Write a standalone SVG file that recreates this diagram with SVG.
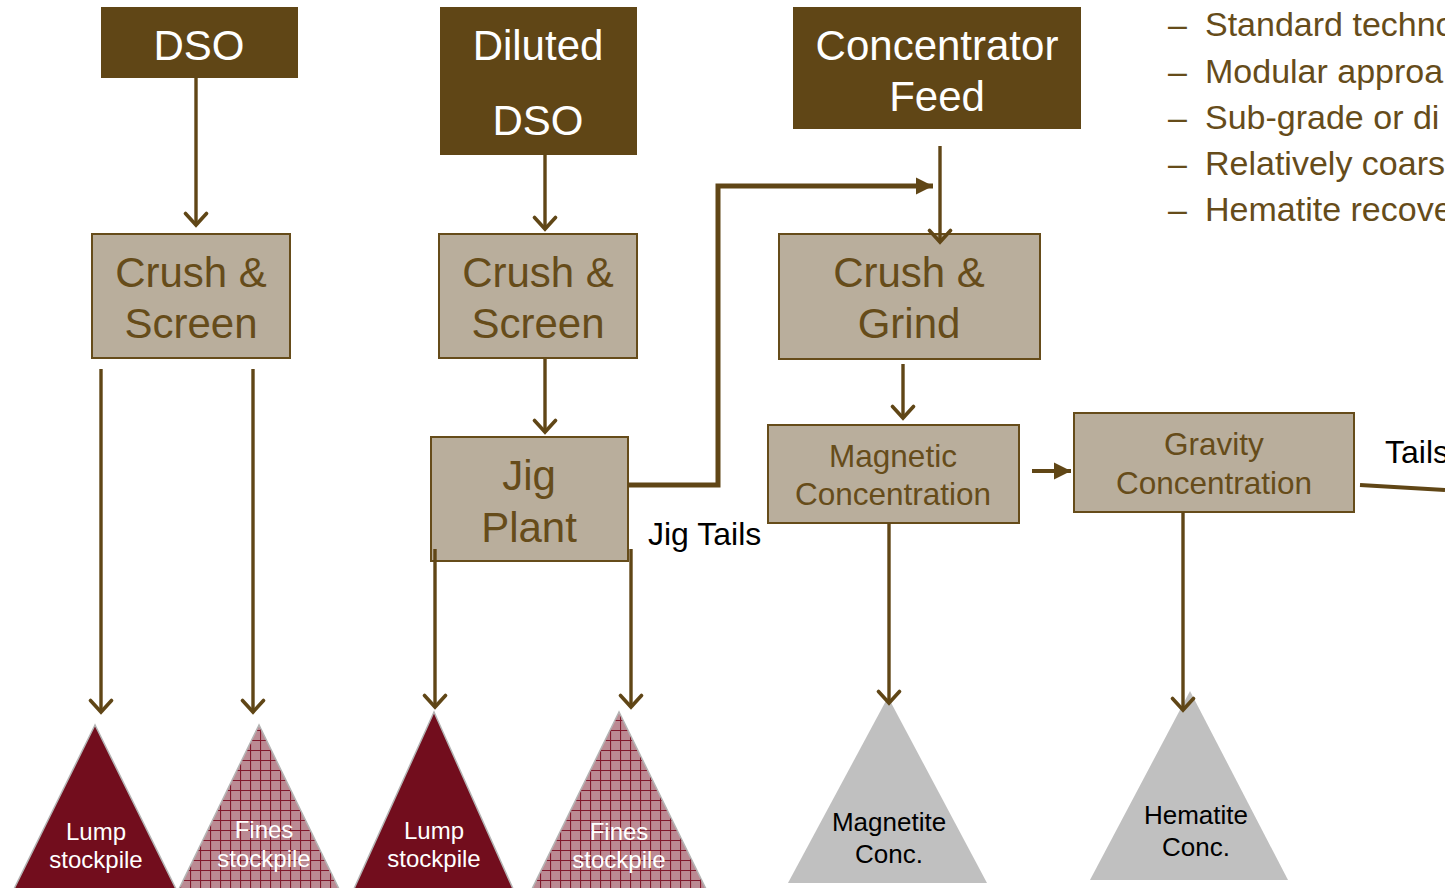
<svg xmlns="http://www.w3.org/2000/svg" width="1445" height="888" viewBox="0 0 1445 888">
<style>
.hdr{fill:#604616}
.box{fill:#b9ae9c;stroke:#664c1a;stroke-width:2}
.ht{font-family:"Liberation Sans",Arial,sans-serif;font-size:42px;fill:#ffffff;text-anchor:middle}
.bt{font-family:"Liberation Sans",Arial,sans-serif;font-size:42px;fill:#664c1a;text-anchor:middle}
.mt{font-family:"Liberation Sans",Arial,sans-serif;font-size:31.5px;fill:#664c1a;text-anchor:middle}
.lbl{font-family:"Liberation Sans",Arial,sans-serif;font-size:32px;fill:#000000}
.st{font-family:"Liberation Sans",Arial,sans-serif;font-size:24px;fill:#ffffff;text-anchor:middle}
.ct{font-family:"Liberation Sans",Arial,sans-serif;font-size:26px;fill:#000000;text-anchor:middle}
.bl{font-family:"Liberation Sans",Arial,sans-serif;font-size:34px;fill:#664c1a}
.thin{stroke:#604616;stroke-width:3.4;fill:none}
.thick{stroke:#604616;stroke-width:5;fill:none}
.lump{fill:#720d1d;stroke:#b4b4b4;stroke-width:1.5}
.fines{fill:url(#grid);stroke:#b4b4b4;stroke-width:1.5}
.conc{fill:#c0c0c0}
</style>
<defs>
<marker id="open" markerUnits="userSpaceOnUse" viewBox="-15 -13 18 26" markerWidth="18" markerHeight="26" refX="0" refY="0" orient="auto">
<path d="M-11.5,-10.5 L0,0 L-11.5,10.5" fill="none" stroke="#604616" stroke-width="3.6" stroke-linecap="round" stroke-linejoin="miter"/>
</marker>
<marker id="solid" markerUnits="userSpaceOnUse" viewBox="-18 -10 20 20" markerWidth="20" markerHeight="20" refX="0" refY="0" orient="auto">
<path d="M-17,-8.5 L0,0 L-17,8.5 Z" fill="#604616"/>
</marker>
<pattern id="grid" patternUnits="userSpaceOnUse" width="10" height="10">
<rect width="10" height="10" fill="#bb8a93"/>
<path d="M0,0.5 H10 M0.5,0 V10" stroke="#80192c" stroke-width="1.2"/>
</pattern>
</defs>

<g id="dso"><rect class="hdr" x="101" y="7" width="197" height="71"/><text class="ht" x="199" y="60">DSO</text></g>
<g id="diluted-dso"><rect class="hdr" x="440" y="7" width="197" height="148"/><text class="ht" x="538" y="60">Diluted</text><text class="ht" x="538" y="135">DSO</text></g>
<g id="concentrator-feed"><rect class="hdr" x="793" y="7" width="288" height="122"/><text class="ht" x="937" y="60">Concentrator</text><text class="ht" x="937" y="111">Feed</text></g>

<g id="crush-screen-1"><rect class="box" x="92" y="234" width="198" height="124"/><text class="bt" x="191" y="287">Crush &amp;</text><text class="bt" x="191" y="338">Screen</text></g>
<g id="crush-screen-2"><rect class="box" x="439" y="234" width="198" height="124"/><text class="bt" x="538" y="287">Crush &amp;</text><text class="bt" x="538" y="338">Screen</text></g>
<g id="jig-plant"><rect class="box" x="431" y="437" width="197" height="124"/><text class="bt" x="529" y="490">Jig</text><text class="bt" x="529" y="542">Plant</text></g>
<g id="crush-grind"><rect class="box" x="779" y="234" width="261" height="125"/><text class="bt" x="909" y="287">Crush &amp;</text><text class="bt" x="909" y="338">Grind</text></g>
<g id="magnetic"><rect class="box" x="768" y="425" width="251" height="98"/><text class="mt" x="893" y="467">Magnetic</text><text class="mt" x="893" y="505">Concentration</text></g>
<g id="gravity"><rect class="box" x="1074" y="413" width="280" height="99"/><text class="mt" x="1214" y="455">Gravity</text><text class="mt" x="1214" y="494">Concentration</text></g>

<g id="jig-tails-label"><text class="lbl" x="648" y="545">Jig Tails</text></g>
<g id="tails-label"><text class="lbl" x="1385" y="463">Tails</text></g>

<g id="lump-1"><polygon class="lump" points="95,725 13,891 177,891"/><text class="st" x="96" y="840">Lump</text><text class="st" x="96" y="868">stockpile</text></g>
<g id="fines-1"><polygon class="fines" points="259,725 178,891 340,891"/><text class="st" x="264" y="838">Fines</text><text class="st" x="264" y="867">stockpile</text></g>
<g id="lump-2"><polygon class="lump" points="434,712 353,891 514,891"/><text class="st" x="434" y="839">Lump</text><text class="st" x="434" y="867">stockpile</text></g>
<g id="fines-2"><polygon class="fines" points="619,712 531,891 707,891"/><text class="st" x="619" y="840">Fines</text><text class="st" x="619" y="868">stockpile</text></g>
<g id="magnetite"><polygon class="conc" points="888,697 788,883 987,883"/><text class="ct" x="889" y="831">Magnetite</text><text class="ct" x="889" y="863">Conc.</text></g>
<g id="hematite"><polygon class="conc" points="1190,691 1090,880 1288,880"/><text class="ct" x="1196" y="824">Hematite</text><text class="ct" x="1196" y="856">Conc.</text></g>

<g id="bullets">
<text class="bl" x="1168" y="36">–</text><text class="bl" x="1205" y="36">Standard techno</text>
<text class="bl" x="1168" y="83">–</text><text class="bl" x="1205" y="83">Modular approa</text>
<text class="bl" x="1168" y="129">–</text><text class="bl" x="1205" y="129">Sub-grade or di</text>
<text class="bl" x="1168" y="175">–</text><text class="bl" x="1205" y="175">Relatively coars</text>
<text class="bl" x="1168" y="221">–</text><text class="bl" x="1205" y="221">Hematite recove</text>
</g>

<g id="connectors">
<line class="thin" x1="196" y1="78" x2="196" y2="225" marker-end="url(#open)"/>
<line class="thin" x1="101" y1="369" x2="101" y2="712" marker-end="url(#open)"/>
<line class="thin" x1="253" y1="369" x2="253" y2="712" marker-end="url(#open)"/>
<line class="thin" x1="545" y1="155" x2="545" y2="229" marker-end="url(#open)"/>
<line class="thin" x1="545" y1="359" x2="545" y2="432" marker-end="url(#open)"/>
<line class="thin" x1="435" y1="549" x2="435" y2="707" marker-end="url(#open)"/>
<line class="thin" x1="631" y1="549" x2="631" y2="707" marker-end="url(#open)"/>
<line class="thin" x1="940" y1="146" x2="940" y2="242" marker-end="url(#open)"/>
<line class="thin" x1="903" y1="364" x2="903" y2="418" marker-end="url(#open)"/>
<line class="thin" x1="889" y1="523" x2="889" y2="703" marker-end="url(#open)"/>
<line class="thin" x1="1183" y1="512" x2="1183" y2="710" marker-end="url(#open)"/>
<polyline class="thick" points="628,485 718,485 718,186 933,186" marker-end="url(#solid)"/>
<line stroke="#604616" stroke-width="4" x1="1032" y1="471" x2="1071" y2="471" marker-end="url(#solid)"/>
<line stroke="#604616" stroke-width="4" x1="1360" y1="485" x2="1445" y2="490"/>
</g>
</svg>
